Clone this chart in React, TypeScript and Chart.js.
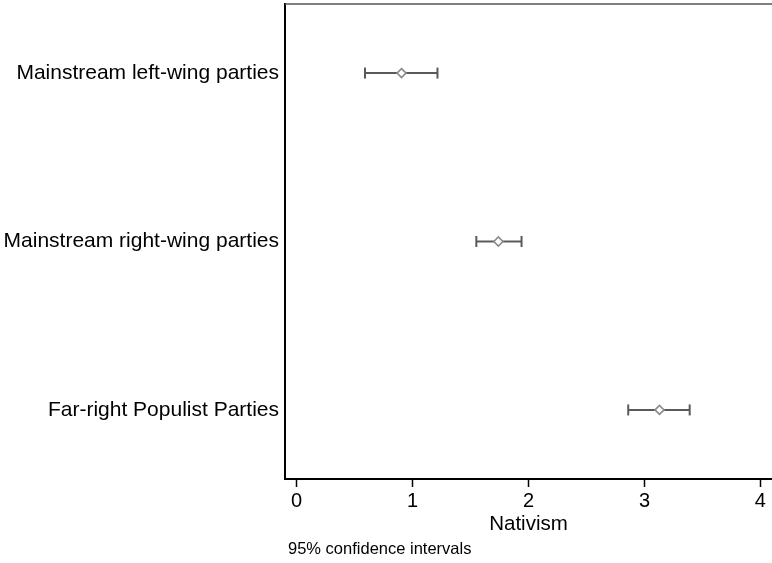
import React, { useEffect, useRef } from "react";
import { Chart, registerables } from "chart.js";

Chart.register(...registerables);

const categories = [
  "Mainstream left-wing parties",
  "Mainstream right-wing parties",
  "Far-right Populist Parties",
];
const estimates = [0.905, 1.74, 3.13];
const lowerCI = [0.59, 1.55, 2.86];
const upperCI = [1.215, 1.94, 3.39];
const xTicks = [0, 1, 2, 3, 4];
const xTitle = "Nativism";
const note = "95% confidence intervals";

const FONT = "Arial, 'Liberation Sans', Helvetica, sans-serif";

function zeroPadding(scale: any) {
  scale.paddingTop = 0;
  scale.paddingBottom = 0;
  scale.paddingLeft = 0;
  scale.paddingRight = 0;
}

export default function App() {
  const ref = useRef<HTMLCanvasElement | null>(null);

  useEffect(() => {
    document.body.style.margin = "0";
    const canvas = ref.current;
    if (!canvas) return;

    const ciDatasets = categories.map((_, i) => ({
      type: "line" as const,
      data: [
        { x: lowerCI[i], y: i + 1 },
        { x: upperCI[i], y: i + 1 },
      ],
      borderColor: "#5a5a5a",
      borderWidth: 2,
      pointStyle: "line" as const,
      rotation: 90,
      pointRadius: 5.5,
      pointBorderWidth: 2,
      pointBorderColor: "#5a5a5a",
      pointHoverRadius: 5.5,
      fill: false,
      clip: false,
      order: 2,
    }));

    const pointDataset = {
      type: "scatter" as const,
      data: estimates.map((v, i) => ({ x: v, y: i + 1 })),
      pointStyle: "rectRot" as const,
      pointRadius: 4.5,
      pointBackgroundColor: "#ffffff",
      pointBorderColor: "#8a8a8a",
      pointBorderWidth: 1.6,
      clip: false,
      order: 1,
    };

    const extras = {
      id: "extras",
      afterDraw(chart: any) {
        const { ctx, chartArea } = chart;
        ctx.save();
        ctx.strokeStyle = "#555555";
        ctx.lineWidth = 1.5;
        ctx.beginPath();
        ctx.moveTo(chartArea.left, chartArea.top);
        ctx.lineTo(chartArea.right, chartArea.top);
        ctx.stroke();
        ctx.fillStyle = "#000000";
        ctx.font = `16.5px ${FONT}`;
        ctx.textAlign = "left";
        ctx.textBaseline = "middle";
        ctx.fillText(note, chartArea.left + 3, chart.height - 14);
        ctx.restore();
      },
    };

    const chart = new Chart(canvas, {
      type: "scatter",
      data: { datasets: [...ciDatasets, pointDataset] as any },
      options: {
        animation: false,
        responsive: false,
        maintainAspectRatio: false,
        events: [],
        layout: { autoPadding: false, padding: { top: 4, right: 0, bottom: 0, left: 0 } },
        plugins: {
          legend: { display: false },
          tooltip: { enabled: false },
        },
        scales: {
          x: {
            type: "linear",
            min: -0.1,
            max: 4.1,
            afterBuildTicks: (scale: any) => {
              scale.ticks = xTicks.map((v) => ({ value: v }));
            },
            afterFit: (scale: any) => {
              scale.height = 84;
              zeroPadding(scale);
            },
            grid: {
              display: true,
              drawOnChartArea: false,
              drawTicks: true,
              tickLength: 8,
              tickWidth: 1.5,
              tickColor: "#000000",
            },
            border: { display: true, color: "#000000", width: 2 },
            ticks: {
              color: "#000000",
              font: { family: FONT, size: 20 },
              padding: 2,
              maxRotation: 0,
            },
            title: {
              display: true,
              text: xTitle,
              color: "#000000",
              font: { family: FONT, size: 20.5 },
              padding: { top: 0, bottom: 26 },
            },
          },
          y: {
            type: "linear",
            min: 0.59,
            max: 3.41,
            reverse: true,
            afterBuildTicks: (scale: any) => {
              scale.ticks = categories.map((_, i) => ({ value: i + 1 }));
            },
            afterFit: (scale: any) => {
              scale.width = 285;
              zeroPadding(scale);
            },
            grid: { display: false, drawTicks: false },
            border: { display: true, color: "#000000", width: 2 },
            ticks: {
              color: "#000000",
              font: { family: FONT, size: 21 },
              padding: 6,
              callback: (v: any) => categories[Math.round(Number(v)) - 1] ?? "",
            },
          },
        },
      },
      plugins: [extras],
    });

    return () => chart.destroy();
  }, []);

  return (
    <div style={{ width: 772, height: 563, background: "#ffffff" }}>
      <canvas ref={ref} width={772} height={563} style={{ display: "block" }} />
    </div>
  );
}
